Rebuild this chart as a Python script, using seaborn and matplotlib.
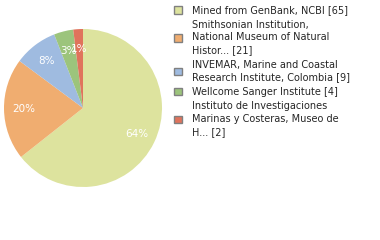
import matplotlib
matplotlib.use("Agg")
import matplotlib.pyplot as plt
import seaborn as sns
from matplotlib.patches import Patch

sns.set_style("white")
plt.rcParams['font.family'] = ['DejaVu Sans']

labels = ["Mined from GenBank, NCBI [65]",
          "Smithsonian Institution,\nNational Museum of Natural\nHistor... [21]",
          "INVEMAR, Marine and Coastal\nResearch Institute, Colombia [9]",
          "Wellcome Sanger Institute [4]",
          "Instituto de Investigaciones\nMarinas y Costeras, Museo de\nH... [2]"]
counts = [65, 21, 9, 4, 2]
colors = ["#dde39e", "#f0ad70", "#9fbbe0", "#9cc47c", "#e0735c"]

fig = plt.figure(figsize=(3.8, 2.4), dpi=100)
ax = fig.add_axes([4/380, 53/240, 158/380, 158/240])
wedges, texts, autotexts = ax.pie(counts, colors=colors, startangle=90, counterclock=False,
                                  autopct=lambda p: f"{int(p)}%", pctdistance=0.75,
                                  textprops=dict(color="white", fontsize=7.5),
                                  wedgeprops=dict(linewidth=0))
ax.set_xlim(-1, 1)
ax.set_ylim(-1, 1)
ax.set_aspect("equal")
handles = [Patch(facecolor=c, edgecolor="#808080", linewidth=1.0) for c in colors]
leg = fig.legend(handles, labels, loc="upper left", bbox_to_anchor=(167/380, 1.0 + 2/240),
                 frameon=False, fontsize=7, handlelength=0.82, handleheight=0.82,
                 handletextpad=1.0, labelspacing=0.45, borderpad=0.25)
for t in leg.get_texts():
    t.set_linespacing(1.35)
fig.savefig("out.png", dpi=100)
